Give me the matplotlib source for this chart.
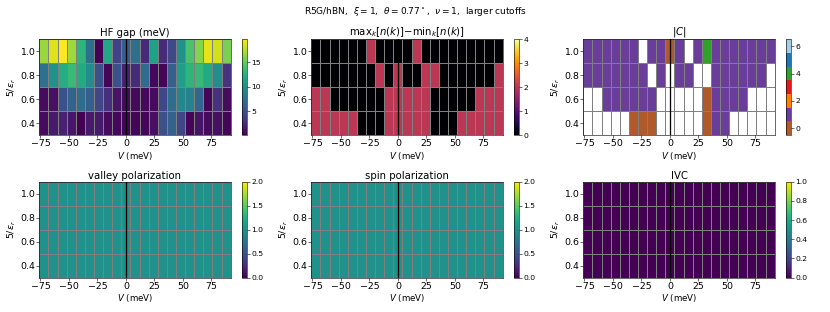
import numpy as np
import matplotlib
matplotlib.use("Agg")
import matplotlib.pyplot as plt
from matplotlib.colors import ListedColormap

# ---------------- data ----------------
V = [-72, -64, -56, -48, -40, -32, -24, -16, -8, 0, 8, 16, 24, 32, 40, 48, 56, 64, 72, 80, 88]
eps = [0.4, 0.6, 0.8, 1.0]

hf_gap_04 = [0.8, 1.5, 2.0, 1.3, 0.2, 1.5, 1.5, 0.8, 0.6, 0.5, 0.5, 0.5, 1.0, 5.0, 6.3, 4.3, 0.5, 1.2, 0.8, 1.0, 0.5]
hf_gap_06 = [0.8, 1.0, 5.0, 6.2, 7.0, 6.0, 4.3, 2.8, 1.2, 0.8, 0.7, 0.6, 0.8, 4.3, 7.0, 9.2, 8.8, 6.5, 0.5, 3.0, 0.8]
hf_gap_08 = [7.5, 10.0, 12.2, 13.3, 12.0, 9.7, 5.0, 0.5, 5.0, 2.0, 2.5, 7.0, 0.6, 0.5, 6.0, 11.0, 12.8, 13.3, 12.0, 9.7, 3.0]
hf_gap_10 = [16.6, 18.6, 19.6, 16.7, 12.8, 7.3, 0.3, 11.8, 4.0, 6.0, 7.2, 2.5, 11.2, 2.5, 4.4, 9.9, 14.0, 16.0, 18.8, 18.2, 15.7]

nk_04 = [2, 2, 2, 2, 2, 0, 0, 0, 2, 2, 2, 2, 2, 0, 0, 0, 2, 2, 2, 2, 2]
nk_06 = [2, 2, 0, 0, 0, 0, 0, 0, 2, 2, 2, 2, 2, 0, 0, 0, 0, 0, 2, 2, 2]
nk_08 = [0, 0, 0, 0, 0, 0, 0, 2, 0, 2, 0, 0, 2, 2, 0, 0, 0, 0, 0, 0, 2]
nk_10 = [0, 0, 0, 0, 0, 0, 2, 0, 0, 0, 0, 2, 0, 0, 0, 0, 0, 0, 0, 0, 0]

nan = np.nan
chern_04 = [nan, nan, nan, nan, nan, 0, 0, 0, nan, nan, nan, nan, nan, 0, 1, 1, nan, nan, nan, nan, nan]
chern_06 = [nan, nan, 1, 1, 1, 1, 1, 1, nan, nan, nan, nan, nan, 0, 1, 1, 1, 1, nan, nan, nan]
chern_08 = [1, 1, 1, 1, 1, 1, 1, nan, 1, nan, 1, 1, nan, nan, 1, 1, 1, 1, 1, 1, nan]
chern_10 = [1, 1, 1, 1, 1, 1, nan, 1, 1, 0, 1, nan, 1, 4, 1, 1, 1, 1, 1, 1, 1]

valley_04 = [1, 1, 1, 1, 1, 1, 1, 1, 1, 1, 1, 1, 1, 1, 1, 1, 1, 1, 1, 1, 1]
valley_06 = [1, 1, 1, 1, 1, 1, 1, 1, 1, 1, 1, 1, 1, 1, 1, 1, 1, 1, 1, 1, 1]
valley_08 = [1, 1, 1, 1, 1, 1, 1, 1, 1, 1, 1, 1, 1, 1, 1, 1, 1, 1, 1, 1, 1]
valley_10 = [1, 1, 1, 1, 1, 1, 1, 1, 1, 1, 1, 1, 1, 1, 1, 1, 1, 1, 1, 1, 1]

spin_04 = [1, 1, 1, 1, 1, 1, 1, 1, 1, 1, 1, 1, 1, 1, 1, 1, 1, 1, 1, 1, 1]
spin_06 = [1, 1, 1, 1, 1, 1, 1, 1, 1, 1, 1, 1, 1, 1, 1, 1, 1, 1, 1, 1, 1]
spin_08 = [1, 1, 1, 1, 1, 1, 1, 1, 1, 1, 1, 1, 1, 1, 1, 1, 1, 1, 1, 1, 1]
spin_10 = [1, 1, 1, 1, 1, 1, 1, 1, 1, 1, 1, 1, 1, 1, 1, 1, 1, 1, 1, 1, 1]

ivc_04 = [0, 0, 0, 0, 0, 0, 0, 0, 0, 0, 0, 0, 0, 0, 0, 0, 0, 0, 0, 0, 0]
ivc_06 = [0, 0, 0, 0, 0, 0, 0, 0, 0, 0, 0, 0, 0, 0, 0, 0, 0, 0, 0, 0, 0]
ivc_08 = [0, 0, 0, 0, 0, 0, 0, 0, 0, 0, 0, 0, 0, 0, 0, 0, 0, 0, 0, 0, 0]
ivc_10 = [0, 0, 0, 0, 0, 0, 0, 0, 0, 0, 0, 0, 0, 0, 0, 0, 0, 0, 0, 0, 0]

titles = ["HF gap (meV)", r"$\mathrm{max}_k[n(k)]$$-$$\mathrm{min}_k[n(k)]$", r"$|C|$",
          "valley polarization", "spin polarization", "IVC"]
suptitle = r"R5G/hBN,  $\xi=1$,  $\theta=0.77^\circ$,  $\nu=1$,  larger cutoffs"
chern_colors = ['#b15928', '#6a3d9a', '#ff7f00', '#e31a1c', '#33a02c', '#1f78b4', '#a6cee3']
xticks = [-75, -50, -25, 0, 25, 50, 75]
yticks = [0.4, 0.6, 0.8, 1.0]
cbar_ticks = [[5, 10, 15], [0, 1, 2, 3, 4], [0, 2, 4, 6],
              [0.0, 0.5, 1.0, 1.5, 2.0], [0.0, 0.5, 1.0, 1.5, 2.0],
              [0.0, 0.2, 0.4, 0.6, 0.8, 1.0]]

# ---------------- figure ----------------
DPI = 51.875
fig = plt.figure(figsize=(830 / DPI, 312 / DPI), dpi=DPI)

W, H = 830.0, 312.0
lefts = [39.3, 311.3, 583.3]
tops = [39.3, 181.7]
aw, ah = 191.4, 95.8
cb_off, cb_w = 203.0, 4.8

panels = [
    (np.array([hf_gap_04, hf_gap_06, hf_gap_08, hf_gap_10]), dict(cmap='viridis')),
    (np.array([nk_04, nk_06, nk_08, nk_10], float), dict(cmap='inferno', vmin=0, vmax=4)),
    (np.array([chern_04, chern_06, chern_08, chern_10], float),
     dict(cmap=ListedColormap(chern_colors), vmin=-0.5, vmax=6.5)),
    (np.array([valley_04, valley_06, valley_08, valley_10], float), dict(cmap='viridis', vmin=0, vmax=2)),
    (np.array([spin_04, spin_06, spin_08, spin_10], float), dict(cmap='viridis', vmin=0, vmax=2)),
    (np.array([ivc_04, ivc_06, ivc_08, ivc_10], float), dict(cmap='viridis', vmin=0, vmax=1)),
]

for i, (Z, kw) in enumerate(panels):
    r, c = divmod(i, 3)
    x0, y0 = lefts[c], tops[r]
    ax = fig.add_axes([x0 / W, 1 - (y0 + ah) / H, aw / W, ah / H])
    cax = fig.add_axes([(x0 + cb_off) / W, 1 - (y0 + ah) / H, cb_w / W, ah / H])
    m = ax.pcolormesh(V, eps, np.ma.masked_invalid(Z), shading='nearest',
                      edgecolors='grey', linewidth=0.9, **kw)
    ax.axvline(0, color='k', lw=1.8)
    ax.set_title(titles[i], fontsize=14, pad=4)
    ax.set_xlabel(r"$V$ (meV)", fontsize=12, labelpad=2)
    ax.set_ylabel(r"$5/\epsilon_r$", fontsize=13, labelpad=3)
    ax.set_xticks(xticks)
    ax.set_yticks(yticks)
    ax.tick_params(labelsize=13, length=4, pad=2)
    cb = fig.colorbar(m, cax=cax)
    cb.set_ticks(cbar_ticks[i])
    cb.ax.tick_params(labelsize=10.5, length=4, pad=2)

fig.suptitle(suptitle, fontsize=12.5, y=1 - 4.5 / H, va='top')
fig.savefig("out.png", dpi=DPI)
